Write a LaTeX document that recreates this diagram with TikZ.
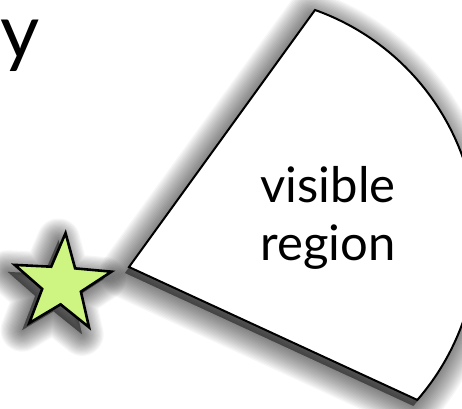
\documentclass[tikz,border=0pt]{standalone}
\usepackage{fontspec}
\setmainfont{Lato}
\usetikzlibrary{shapes.geometric}
\definecolor{starfill}{RGB}{206,245,130}

% outline of the visible region
\newcommand{\regionpath}{(129,141) -- (315,398) arc[start angle=70.4, end angle=-41, radius=244] -- cycle}

\begin{document}
\begin{tikzpicture}[x=1pt,y=1pt,
    shadowlayer/.style={draw=black, fill=black, opacity=0.035, line join=round},
    region/.style={draw=black, fill=white, line width=2pt, line join=miter},
    starshape/.style={star, star points=5, star point ratio=2.5, minimum size=102pt, inner sep=0pt, rotate=-4},
    label/.style={font=\fontsize{49}{58}\selectfont, align=center}]

    \useasboundingbox (0,0) rectangle (462,408);

    % axis letter
    \node[font=\fontsize{76}{80}\selectfont, anchor=base, inner sep=0pt] (ylab) at (20,349) {y};

    % soft shadows
    \foreach \w in {1,...,18} {
        \path[shadowlayer, line width=2.8*\w pt, shift={(-4,-6)}] \regionpath;
        \node[starshape, shadowlayer, line width=2.4*\w pt] (starshadow) at (55,117) {};
    }

    % visible region
    \coordinate (apex) at (129,141);
    \path[region] \regionpath;
    \node[label] (vis) at (328,190) {visible\\region};

    % Star
    \node[starshape, draw=black, line width=2.6pt, fill=starfill] (star) at (62,124) {};
\end{tikzpicture}
\end{document}
